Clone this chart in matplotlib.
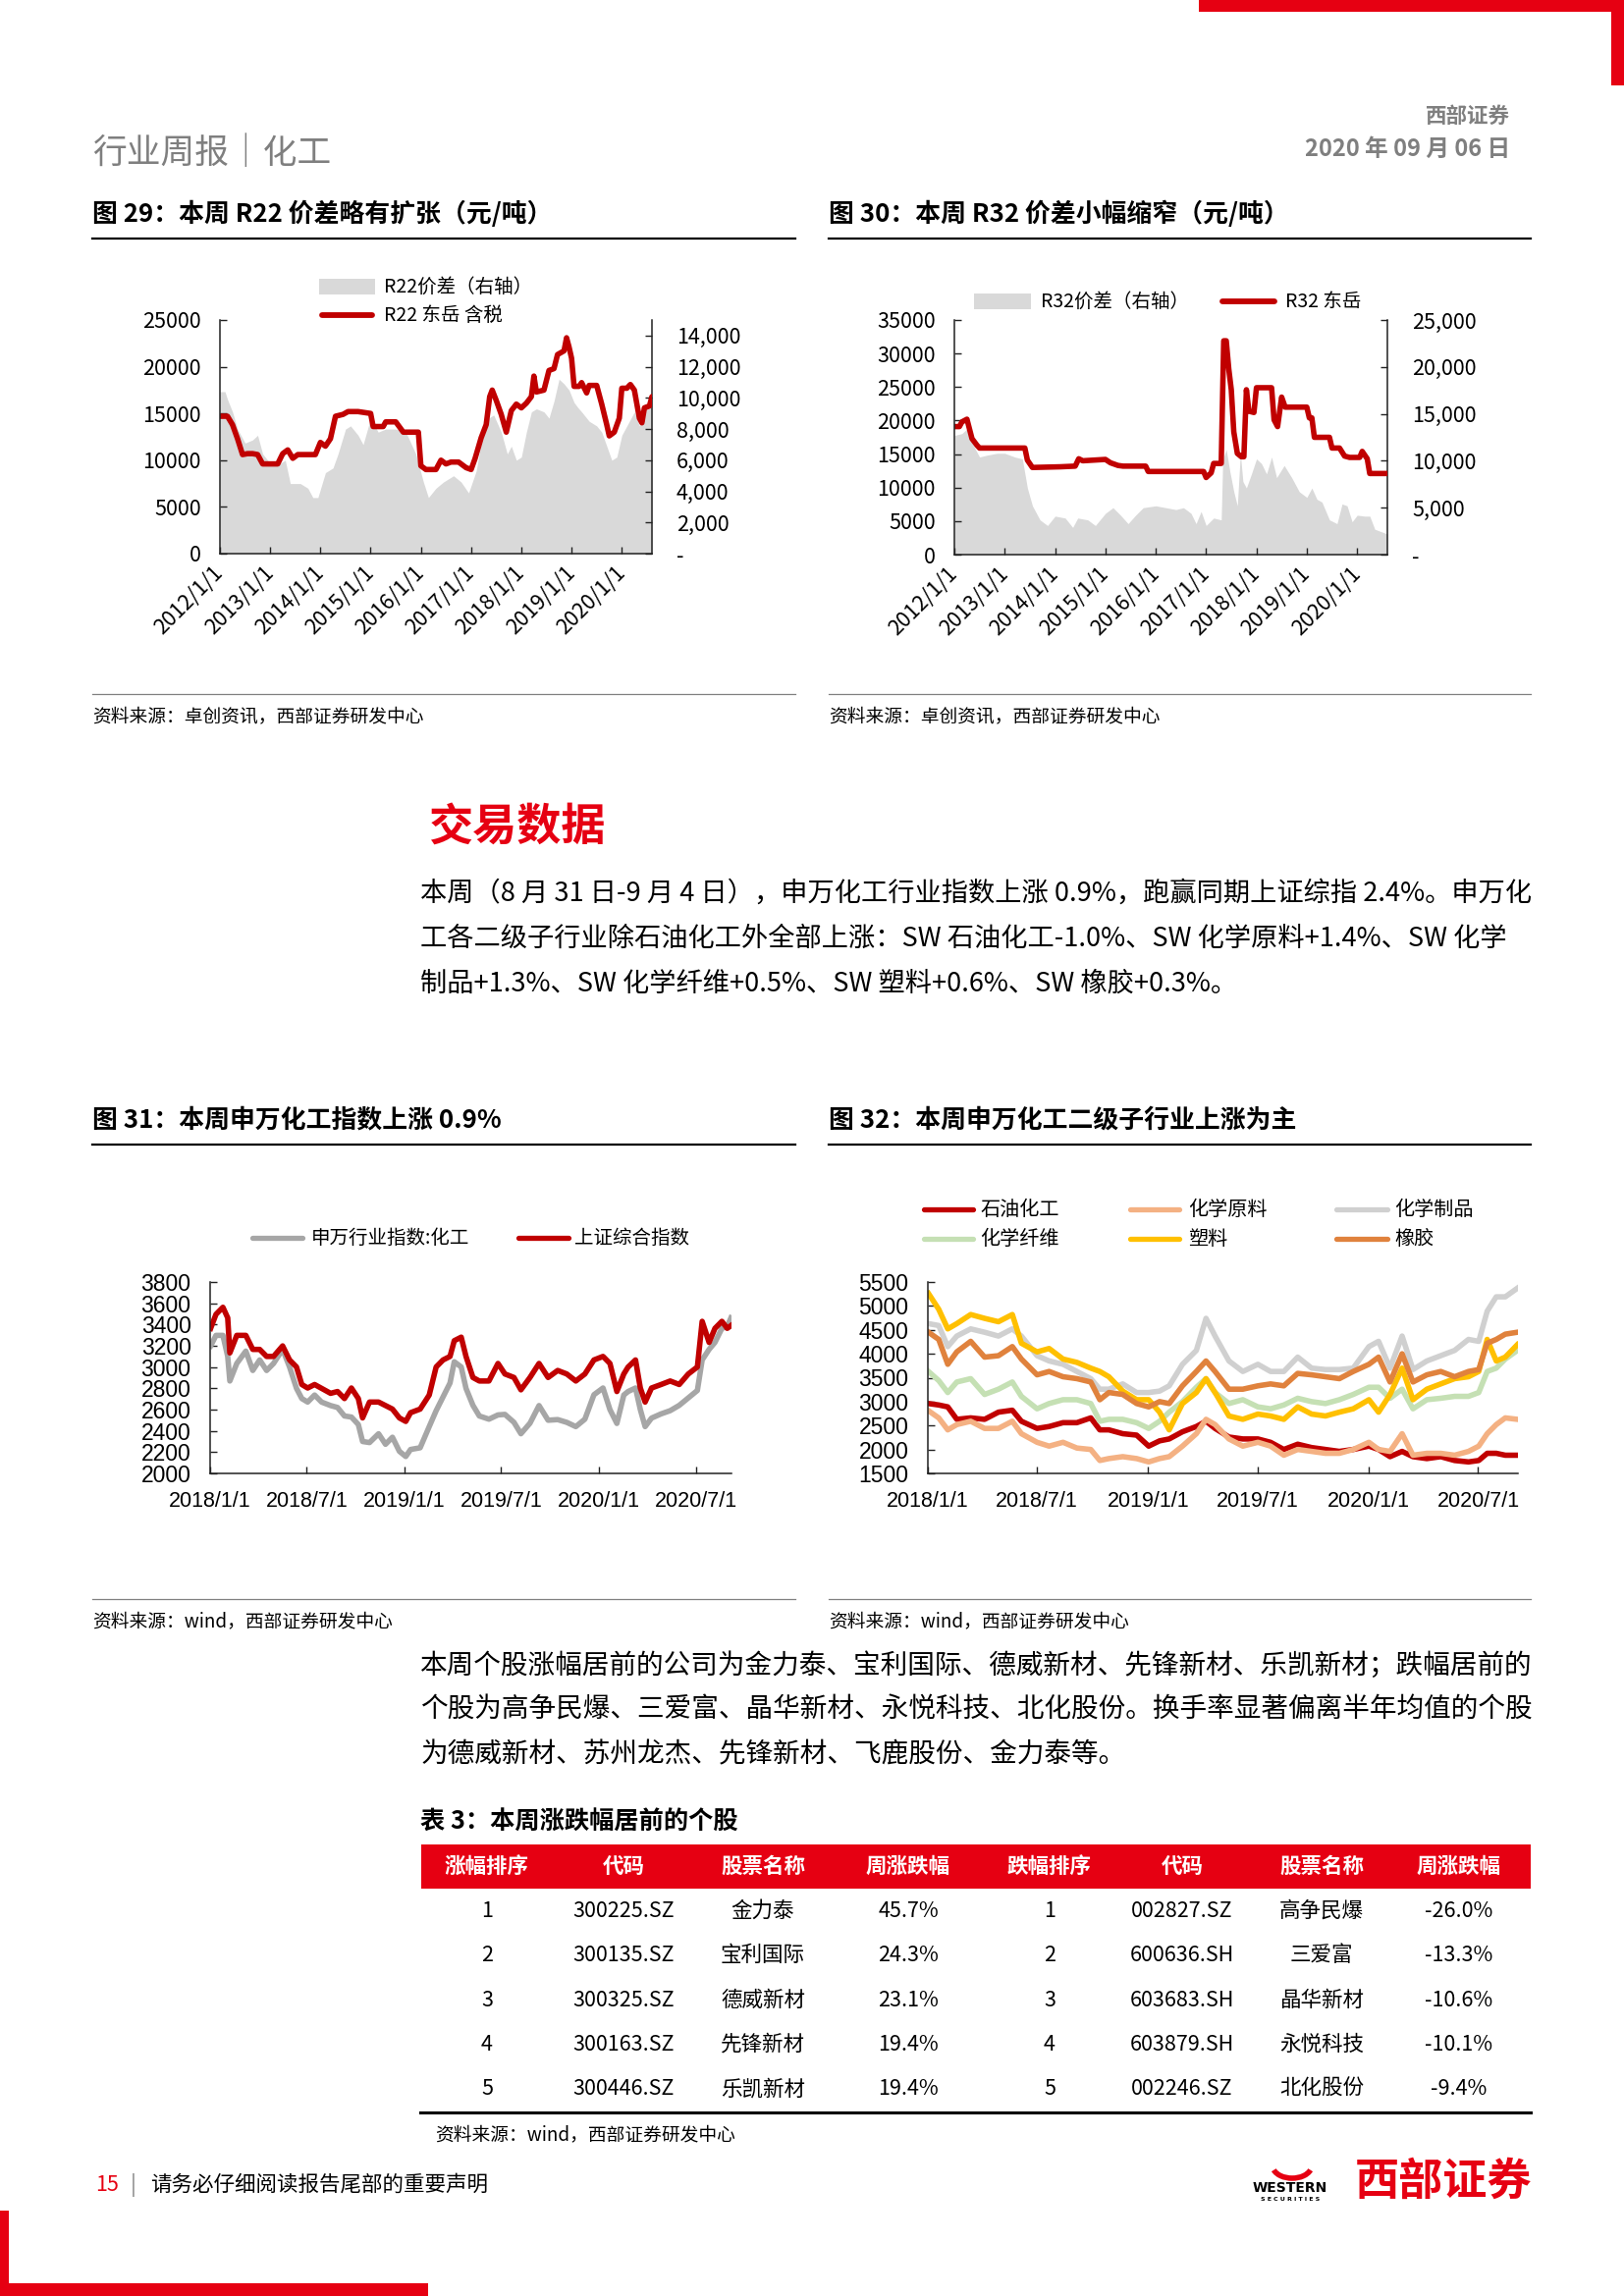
import matplotlib
matplotlib.use("Agg")
import matplotlib.pyplot as plt
from matplotlib.lines import Line2D
from matplotlib.patches import Rectangle, Arc
from matplotlib.ticker import FuncFormatter
import numpy as np
import pandas as pd

plt.rcParams['font.family'] = ['Noto Sans CJK SC', 'DejaVu Sans']
plt.rcParams['axes.unicode_minus'] = False

# ---------------- data ----------------
# fig 29: R22 price (left axis) and spread (right axis), decimal years
r22_t = [2012.0, 2012.15, 2012.25, 2012.35, 2012.45, 2012.55, 2012.65, 2012.75, 2012.85, 2013.0,
         2013.15, 2013.25, 2013.35, 2013.45, 2013.55, 2013.7, 2013.9, 2014.0, 2014.1, 2014.2,
         2014.3, 2014.45, 2014.55, 2014.75, 2015.0, 2015.05, 2015.25, 2015.3, 2015.5, 2015.65,
         2015.95, 2016.0, 2016.1, 2016.3, 2016.4, 2016.5, 2016.6, 2016.75, 2016.9, 2017.0,
         2017.08, 2017.2, 2017.3, 2017.37, 2017.42, 2017.5, 2017.6, 2017.7, 2017.8, 2017.9,
         2018.0, 2018.1, 2018.2, 2018.25, 2018.3, 2018.45, 2018.55, 2018.65, 2018.72, 2018.85,
         2018.9, 2018.95, 2019.0, 2019.05, 2019.15, 2019.2, 2019.3, 2019.35, 2019.5, 2019.6,
         2019.7, 2019.75, 2019.85, 2019.95, 2020.0, 2020.1, 2020.17, 2020.25, 2020.35, 2020.4,
         2020.45, 2020.55, 2020.6]
r22_price = [14700, 14700, 13800, 12300, 10600, 10700, 10700, 10600, 9600, 9600,
             9600, 10700, 11100, 10200, 10600, 10600, 10600, 11900, 11500, 12300,
             14700, 14900, 15200, 15200, 15000, 13600, 13600, 14100, 14100, 13000,
             13000, 9400, 9000, 9000, 10000, 9600, 9800, 9800, 9200, 9000,
             10200, 12400, 13800, 16800, 17500, 16400, 14900, 13000, 15300, 16000,
             15600, 16100, 16800, 19000, 17300, 17500, 19600, 19800, 21300, 21700,
             23100, 22100, 20900, 17900, 17900, 18300, 17200, 18000, 18000, 16000,
             13800, 12600, 13000, 14500, 17700, 17700, 18100, 17500, 14500, 14000,
             15600, 15800, 16800]
r22_spread_t = [2012.0, 2012.1, 2012.15, 2012.25, 2012.35, 2012.5, 2012.65, 2012.75, 2012.85, 2013.0,
                2013.2, 2013.3, 2013.4, 2013.6, 2013.75, 2013.85, 2013.95, 2014.1, 2014.25, 2014.35,
                2014.5, 2014.6, 2014.75, 2014.85, 2015.0, 2015.15, 2015.3, 2015.5, 2015.7, 2015.9,
                2016.05, 2016.15, 2016.3, 2016.45, 2016.65, 2016.8, 2016.95, 2017.1, 2017.25, 2017.35,
                2017.45, 2017.6, 2017.72, 2017.8, 2017.9, 2018.0, 2018.1, 2018.2, 2018.3, 2018.45,
                2018.55, 2018.65, 2018.75, 2018.85, 2018.95, 2019.05, 2019.12, 2019.2, 2019.35, 2019.5,
                2019.6, 2019.7, 2019.8, 2019.9, 2020.0, 2020.1, 2020.25, 2020.35, 2020.45, 2020.55,
                2020.6]
r22_spread = [10400, 10400, 9900, 9100, 8000, 7100, 7300, 7600, 6400, 5800,
              5800, 6000, 4500, 4500, 4200, 3600, 3600, 5200, 5500, 6400,
              8000, 8200, 7600, 7000, 8700, 7800, 8000, 8000, 7800, 6400,
              4600, 3600, 4200, 4600, 5000, 4600, 3900, 5300, 8000, 8700,
              8900, 7800, 6400, 6900, 6000, 6200, 7800, 9100, 9300, 9100,
              8700, 9800, 11200, 10900, 10500, 9700, 9400, 9100, 8500, 8200,
              7800, 6900, 6000, 6200, 7600, 8200, 9100, 8200, 9100, 9600,
              10000]

# fig 30: R32 price (left axis) and spread (right axis)
r32_t = [2012.0, 2012.1, 2012.15, 2012.25, 2012.35, 2012.45, 2012.5, 2013.4, 2013.45, 2013.55,
         2014.1, 2014.4, 2014.47, 2014.55, 2015.0, 2015.1, 2015.25, 2015.35, 2015.8, 2015.85,
         2016.95, 2017.0, 2017.1, 2017.15, 2017.3, 2017.35, 2017.4, 2017.45, 2017.5, 2017.55,
         2017.62, 2017.7, 2017.75, 2017.8, 2017.85, 2017.95, 2018.0, 2018.3, 2018.35, 2018.42,
         2018.5, 2018.57, 2019.0, 2019.05, 2019.1, 2019.15, 2019.45, 2019.5, 2019.65, 2019.75,
         2019.85, 2020.05, 2020.1, 2020.2, 2020.25, 2020.6]
r32_price = [19100, 19100, 19800, 20200, 17300, 16300, 15900, 15900, 14100, 13000,
             13100, 13200, 14300, 14000, 14200, 13700, 13300, 13200, 13200, 12400,
             12400, 11500, 12200, 13600, 13600, 31900, 31900, 27700, 24600, 18300,
             15100, 14600, 14600, 24600, 21400, 21200, 24900, 24900, 20100, 19100,
             23500, 22000, 22000, 20400, 20400, 17500, 17500, 15900, 15900, 14700,
             14500, 14500, 15400, 14300, 12100, 12100]
r32_spread_t = [2012.0, 2012.15, 2012.25, 2012.35, 2012.5, 2012.65, 2012.85, 2013.0, 2013.2, 2013.35,
                2013.45, 2013.55, 2013.7, 2013.85, 2014.0, 2014.2, 2014.35, 2014.45, 2014.65, 2014.8,
                2015.0, 2015.15, 2015.3, 2015.45, 2015.6, 2015.75, 2016.0, 2016.2, 2016.4, 2016.55,
                2016.7, 2016.8, 2016.9, 2017.0, 2017.15, 2017.3, 2017.33, 2017.4, 2017.47, 2017.55,
                2017.62, 2017.68, 2017.73, 2017.8, 2017.9, 2018.0, 2018.1, 2018.2, 2018.3, 2018.4,
                2018.55, 2018.7, 2018.85, 2019.0, 2019.1, 2019.2, 2019.3, 2019.45, 2019.6, 2019.7,
                2019.8, 2019.9, 2020.0, 2020.15, 2020.25, 2020.35, 2020.5, 2020.6]
r32_spread = [12700, 12900, 13400, 11900, 10400, 10600, 10800, 10800, 10400, 10200,
              7100, 5200, 3700, 3100, 4100, 3900, 2900, 3900, 3700, 3100,
              4400, 5000, 4200, 3300, 4200, 5000, 5200, 5000, 4800, 5000,
              4400, 3300, 4600, 3100, 3900, 3700, 10100, 11200, 8900, 6700,
              5200, 10800, 7800, 7100, 8600, 10200, 9700, 8600, 10400, 8200,
              9500, 8200, 6700, 6100, 7100, 5900, 5600, 3700, 3300, 5400,
              5200, 3500, 4200, 4100, 4100, 2700, 2400, 2200]

# fig 31: index levels
idx_dates = ['2018-01-02', '2018-01-12', '2018-01-25', '2018-02-03', '2018-02-07', '2018-02-20', '2018-03-09',
             '2018-03-22', '2018-04-04', '2018-04-17', '2018-04-30', '2018-05-17', '2018-05-30', '2018-06-12',
             '2018-06-22', '2018-07-03', '2018-07-16', '2018-07-29', '2018-08-15', '2018-08-28', '2018-09-10',
             '2018-09-23', '2018-10-06', '2018-10-14', '2018-10-27', '2018-11-13', '2018-11-26', '2018-12-09',
             '2018-12-22', '2019-01-03', '2019-01-12', '2019-01-30', '2019-02-16', '2019-03-01', '2019-03-14',
             '2019-03-27', '2019-04-04', '2019-04-17', '2019-04-26', '2019-05-09', '2019-05-21', '2019-06-08',
             '2019-06-25', '2019-07-08', '2019-07-25', '2019-08-07', '2019-08-24', '2019-09-10', '2019-09-27',
             '2019-10-15', '2019-11-01', '2019-11-18', '2019-12-05', '2019-12-22', '2020-01-08', '2020-01-21',
             '2020-02-03', '2020-02-16', '2020-02-24', '2020-03-09', '2020-03-18', '2020-03-27', '2020-04-08',
             '2020-04-26', '2020-05-13', '2020-05-30', '2020-06-16', '2020-07-03', '2020-07-12', '2020-07-25',
             '2020-08-05', '2020-08-18', '2020-08-28', '2020-09-04']
sw_chem = [3199, 3298, 3298, 3100, 2869, 3034, 3150, 2968, 3067, 2968,
           3034, 3166, 3001, 2800, 2704, 2671, 2737, 2671, 2638, 2620,
           2540, 2530, 2460, 2300, 2290, 2373, 2274, 2340, 2208, 2159,
           2225, 2241, 2440, 2590, 2720, 2850, 3050, 3001, 2800, 2640,
           2540, 2510, 2550, 2555, 2480, 2373, 2472, 2638, 2500, 2506,
           2480, 2440, 2510, 2740, 2803, 2600, 2470, 2737, 2770, 2803,
           2600, 2440, 2520, 2560, 2590, 2640, 2710, 2780, 3067, 3166,
           3232, 3364, 3380, 3463]
sh_comp = [3364, 3496, 3562, 3463, 3133, 3298, 3298, 3166, 3166, 3100,
           3100, 3199, 3067, 3001, 2836, 2803, 2836, 2800, 2753, 2770,
           2704, 2803, 2704, 2522, 2671, 2671, 2638, 2605, 2522, 2489,
           2571, 2605, 2737, 3001, 3067, 3100, 3248, 3281, 3100, 2902,
           2869, 2869, 3034, 2935, 2902, 2786, 2902, 3034, 2902, 2968,
           2935, 2869, 2935, 3067, 3100, 3034, 2770, 2935, 3000, 3067,
           2803, 2671, 2803, 2836, 2869, 2836, 2935, 3001, 3430, 3232,
           3364, 3430, 3364, 3390]

# fig 32: sub-industry indices
sub_dates = ['2018-01-02', '2018-01-19', '2018-02-03', '2018-02-18', '2018-03-13', '2018-04-05', '2018-04-28',
             '2018-05-21', '2018-06-05', '2018-07-01', '2018-07-21', '2018-08-13', '2018-09-05', '2018-09-28',
             '2018-10-13', '2018-10-28', '2018-11-20', '2018-12-13', '2019-01-02', '2019-01-20', '2019-02-05',
             '2019-02-27', '2019-03-22', '2019-04-07', '2019-04-22', '2019-05-15', '2019-06-07', '2019-07-02',
             '2019-07-23', '2019-08-14', '2019-09-06', '2019-09-29', '2019-10-22', '2019-11-14', '2019-12-07',
             '2020-01-02', '2020-01-18', '2020-02-06', '2020-02-26', '2020-03-15', '2020-04-07', '2020-04-30',
             '2020-05-23', '2020-06-15', '2020-07-02', '2020-07-16', '2020-07-31', '2020-08-15', '2020-09-04']
petrochem = [2960, 2930, 2890, 2630, 2660, 2630, 2780, 2820, 2590, 2440,
             2480, 2560, 2560, 2660, 2410, 2410, 2330, 2300, 2070, 2180,
             2220, 2370, 2480, 2590, 2440, 2260, 2220, 2220, 2150, 2000,
             2110, 2040, 2000, 1960, 2000, 2070, 2000, 1850, 1960, 1850,
             1810, 1850, 1770, 1740, 1770, 1920, 1920, 1880, 1880]
chem_raw = [2810, 2660, 2410, 2520, 2590, 2440, 2440, 2590, 2330, 2150,
            2070, 2150, 2030, 2000, 1770, 1810, 1850, 1810, 1740, 1810,
            1850, 2070, 2330, 2630, 2520, 2220, 2070, 2150, 2070, 1880,
            2000, 1960, 1920, 1920, 2000, 2150, 2000, 1960, 2330, 1880,
            1920, 1920, 1880, 1960, 2070, 2330, 2520, 2660, 2630]
chem_prod = [4630, 4590, 4150, 4370, 4520, 4450, 4370, 4520, 4370, 3960,
             3850, 3780, 3630, 3480, 3260, 3260, 3370, 3190, 3190, 3220,
             3330, 3780, 4070, 4740, 4370, 3850, 3630, 3780, 3630, 3630,
             3930, 3700, 3670, 3670, 3700, 4150, 4260, 3700, 4370, 3670,
             3850, 3960, 4070, 4300, 4260, 4890, 5190, 5190, 5370]
chem_fiber = [3630, 3440, 3190, 3410, 3480, 3150, 3260, 3410, 3110, 2850,
              2960, 3040, 3040, 2960, 2590, 2630, 2630, 2560, 2440, 2590,
              2780, 3000, 3300, 3480, 3190, 2960, 3040, 2890, 2850, 2930,
              3070, 3000, 2960, 3040, 3150, 3300, 3300, 3070, 3260, 2850,
              3040, 3070, 3110, 3110, 3190, 3630, 3700, 3890, 4070]
plastics = [5260, 4930, 4520, 4630, 4820, 4740, 4670, 4820, 4220, 4040,
            4110, 3890, 3820, 3700, 3630, 3520, 3220, 3040, 3040, 2780,
            2410, 2960, 3190, 3480, 3190, 2700, 2630, 2740, 2700, 2630,
            2890, 2740, 2700, 2780, 2850, 3040, 2780, 3150, 3700, 3040,
            3260, 3370, 3480, 3520, 3630, 4300, 3850, 3930, 4190]
rubber = [4450, 4300, 3780, 4040, 4260, 3930, 3960, 4150, 3890, 3560,
          3630, 3520, 3480, 3410, 3040, 3190, 3150, 2960, 2890, 3000,
          2960, 3330, 3630, 3850, 3630, 3260, 3260, 3330, 3370, 3330,
          3590, 3560, 3520, 3480, 3630, 3780, 3930, 3410, 4000, 3410,
          3560, 3630, 3520, 3630, 3670, 4220, 4300, 4410, 4450]
sub_names = ['石油化工', '化学原料', '化学制品', '化学纤维', '塑料', '橡胶']

# table 3
rank = [1, 2, 3, 4, 5]
up_code = ['300225.SZ', '300135.SZ', '300325.SZ', '300163.SZ', '300446.SZ']
up_name = ['金力泰', '宝利国际', '德威新材', '先锋新材', '乐凯新材']
up_chg = [45.7, 24.3, 23.1, 19.4, 19.4]
down_code = ['002827.SZ', '600636.SH', '603683.SH', '603879.SH', '002246.SZ']
down_name = ['高争民爆', '三爱富', '晶华新材', '永悦科技', '北化股份']
down_chg = [-26.0, -13.3, -10.6, -10.1, -9.4]
table_header = ['涨幅排序', '代码', '股票名称', '周涨跌幅', '跌幅排序', '代码', '股票名称', '周涨跌幅']

# ---------------- styles ----------------
W, H = 1654, 2339
RED = '#C00000'
BRAND = '#E60012'
AREA = '#D9D9D9'
SUB_COLORS = ['#C00000', '#F4B183', '#D0D0D0', '#C5E0B4', '#FFC000', '#E0823D']
NUM_FONT = ['Liberation Sans', 'Noto Sans CJK SC']
TICK_FS = 15.5

fig = plt.figure(figsize=(W / 100, H / 100), dpi=100)


def px_ax(l, t, r, b):
    return fig.add_axes([l / W, 1 - b / H, (r - l) / W, (b - t) / H])


def ftext(x, y, s, **kw):
    kw.setdefault('va', 'center')
    return fig.text(x / W, 1 - y / H, s, **kw)


def hline(x0, x1, y, lw=1.0, color='black'):
    fig.add_artist(Line2D([x0 / W, x1 / W], [1 - y / H] * 2, lw=lw, color=color,
                          transform=fig.transFigure))


def box(x0, y0, x1, y1, color):
    fig.add_artist(Rectangle((x0 / W, 1 - y1 / H), (x1 - x0) / W, (y1 - y0) / H,
                             facecolor=color, edgecolor='none', transform=fig.transFigure))


def legend_line(x0, x1, y, color, label, tx, fs=14, lw=3.8):
    fig.add_artist(Line2D([x0 / W, x1 / W], [1 - y / H] * 2, lw=lw, color=color,
                          solid_capstyle='round', transform=fig.transFigure))
    ftext(tx, y, label, fontsize=fs)


def style_axes(ax):
    ax.spines['top'].set_visible(False)
    ax.spines['right'].set_visible(False)
    for s in ['left', 'bottom']:
        ax.spines[s].set_linewidth(1.1)
        ax.spines[s].set_color('#222222')
    ax.tick_params(direction='in', length=5, width=1.0, colors='#222222', labelcolor='black',
                   labelsize=TICK_FS)


def spread_chart(pos, price_t, price, spread_t, spread, left_max, right_max, right_ticks):
    ax = px_ax(*pos)
    axr = ax.twinx()
    axr.fill_between(spread_t, spread, 0, color=AREA, lw=0)
    ax.plot(price_t, price, color=RED, lw=4, solid_joinstyle='round', solid_capstyle='round')
    ax.set_zorder(axr.get_zorder() + 1)
    ax.patch.set_visible(False)

    ax.set_xlim(2012, 2020.6)
    ax.set_ylim(0, left_max)
    axr.set_ylim(0, right_max)
    ax.set_yticks(np.arange(0, left_max + 1, 5000))
    axr.set_yticks(right_ticks)
    axr.yaxis.set_major_formatter(FuncFormatter(lambda v, p: '-' if v == 0 else f'{int(v):,}'))

    years = list(range(2012, 2021))
    ax.set_xticks(years)
    ax.set_xticklabels([f'{y}/1/1' for y in years], rotation=45, ha='right', va='center',
                       rotation_mode='anchor')

    style_axes(ax)
    ax.tick_params(axis='y', pad=14)
    ax.tick_params(axis='x', pad=12)
    for s in ['top', 'left', 'bottom']:
        axr.spines[s].set_visible(False)
    axr.spines['right'].set_linewidth(1.1)
    axr.spines['right'].set_color('#222222')
    axr.tick_params(direction='in', length=5, width=1.0, colors='#222222', labelcolor='black',
                    labelsize=TICK_FS, pad=18)
    return ax


def index_chart(pos, dates, series, colors, ymin, ymax, ystep):
    ax = px_ax(*pos)
    t = pd.to_datetime(dates)
    for vals, c in zip(series, colors):
        ax.plot(t, vals, color=c, lw=4, solid_joinstyle='round')
    ax.set_xlim(pd.Timestamp('2018-01-01'), pd.Timestamp('2020-09-05'))
    ax.set_ylim(ymin, ymax)
    ax.set_yticks(np.arange(ymin, ymax + 1, ystep))
    ticks = pd.to_datetime(['2018-01-01', '2018-07-01', '2019-01-01', '2019-07-01',
                            '2020-01-01', '2020-07-01'])
    ax.set_xticks(ticks)
    ax.set_xticklabels([f'{d.year}/{d.month}/{d.day}' for d in ticks])
    style_axes(ax)
    ax.tick_params(axis='y', pad=14, labelsize=16.5)
    ax.tick_params(axis='x', pad=13)
    for lbl in ax.get_xticklabels() + ax.get_yticklabels():
        lbl.set_fontfamily(NUM_FONT)
    return ax


# ---------------- page frame ----------------
box(1221, 0, 1654, 12, BRAND)
box(1641, 0, 1654, 87, BRAND)
box(0, 2252, 9, 2339, BRAND)
box(0, 2326, 436, 2339, BRAND)

ftext(94, 157, '行业周报｜化工', fontsize=25, color='#7F7F7F')
ftext(1538, 118, '西部证券', fontsize=15.5, color='#7F7F7F', ha='right', fontweight='bold')
ftext(1538, 152, '2020 年 09 月 06 日', fontsize=17, color='#7F7F7F', ha='right', fontweight='bold')

# ---------------- fig 29 / 30 ----------------
ftext(94, 218, '图 29：本周 R22 价差略有扩张（元/吨）', fontsize=18.6, fontweight='bold')
ftext(844, 218, '图 30：本周 R32 价差小幅缩窄（元/吨）', fontsize=18.6, fontweight='bold')
hline(94, 810, 243, lw=1.6)
hline(844, 1559, 243, lw=1.6)

spread_chart((224, 326, 664, 564), r22_t, r22_price, r22_spread_t, r22_spread,
             25000, 15000, np.arange(0, 14001, 2000))
spread_chart((972, 326, 1413, 565), r32_t, r32_price, r32_spread_t, r32_spread,
             35000, 25000, np.arange(0, 25001, 5000))

box(325, 284, 382, 300, AREA)
ftext(391, 292, 'R22价差（右轴）', fontsize=14)
legend_line(328, 379, 321, RED, 'R22 东岳 含税', 391, lw=4.2)
box(992, 299, 1050, 315, AREA)
ftext(1060, 307, 'R32价差（右轴）', fontsize=14)
legend_line(1245, 1298, 307, RED, 'R32 东岳', 1309, lw=4.2)

hline(94, 810, 707, lw=0.9, color='#808080')
hline(844, 1559, 707, lw=0.9, color='#808080')
ftext(94, 730, '资料来源：卓创资讯，西部证券研发中心', fontsize=13.5)
ftext(844, 730, '资料来源：卓创资讯，西部证券研发中心', fontsize=13.5)

# ---------------- text block ----------------
ftext(437, 843, '交易数据', fontsize=32.5, fontweight='bold', color=BRAND)
para1 = ['本周（8 月 31 日-9 月 4 日），申万化工行业指数上涨 0.9%，跑赢同期上证综指 2.4%。申万化',
         '工各二级子行业除石油化工外全部上涨：SW 石油化工-1.0%、SW 化学原料+1.4%、SW 化学',
         '制品+1.3%、SW 化学纤维+0.5%、SW 塑料+0.6%、SW 橡胶+0.3%。']
for i, line in enumerate(para1):
    ftext(428, 910 + 46 * i, line, fontsize=19.6)

# ---------------- fig 31 / 32 ----------------
ftext(94, 1141, '图 31：本周申万化工指数上涨 0.9%', fontsize=18.6, fontweight='bold')
ftext(844, 1141, '图 32：本周申万化工二级子行业上涨为主', fontsize=18.6, fontweight='bold')
hline(94, 810, 1166, lw=1.6)
hline(844, 1559, 1166, lw=1.6)

index_chart((214, 1306, 745, 1501), idx_dates, [sw_chem, sh_comp], ['#A6A6A6', RED], 2000, 3800, 200)
legend_line(257, 308, 1261, '#A6A6A6', '申万行业指数:化工', 317)
legend_line(528, 579, 1261, RED, '上证综合指数', 585)

index_chart((945, 1306, 1546, 1501), sub_dates,
            [petrochem, chem_raw, chem_prod, chem_fiber, plastics, rubber], SUB_COLORS, 1500, 5500, 500)
leg_cols = [(941, 991, 998), (1151, 1201, 1210), (1361, 1413, 1420)]
for i, (name, c) in enumerate(zip(sub_names, SUB_COLORS)):
    x0, x1, tx = leg_cols[i % 3]
    legend_line(x0, x1, 1232 + 30 * (i // 3), c, name, tx, fs=14.5)

hline(94, 810, 1629, lw=0.9, color='#808080')
hline(844, 1559, 1629, lw=0.9, color='#808080')
ftext(94, 1652, '资料来源：wind，西部证券研发中心', fontsize=13.5)
ftext(844, 1652, '资料来源：wind，西部证券研发中心', fontsize=13.5)

para2 = ['本周个股涨幅居前的公司为金力泰、宝利国际、德威新材、先锋新材、乐凯新材；跌幅居前的',
         '个股为高争民爆、三爱富、晶华新材、永悦科技、北化股份。换手率显著偏离半年均值的个股',
         '为德威新材、苏州龙杰、先锋新材、飞鹿股份、金力泰等。']
for i, line in enumerate(para2):
    ftext(428, 1697 + 45 * i, line, fontsize=19.9)

# ---------------- table 3 ----------------
ftext(428, 1855, '表 3：本周涨跌幅居前的个股', fontsize=18.2, fontweight='bold')
box(429, 1879, 1559, 1924, BRAND)
col_x = [496, 635, 777, 925, 1069, 1204, 1346, 1486]
for x, h in zip(col_x, table_header):
    ftext(x, 1901, h, fontsize=15.5, fontweight='bold', color='white', ha='center')
for i in range(len(rank)):
    y = 1947 + 45.3 * i
    row = [str(rank[i]), up_code[i], up_name[i], f'{up_chg[i]:.1f}%',
           str(rank[i]), down_code[i], down_name[i], f'{down_chg[i]:.1f}%']
    for x, cell in zip(col_x, row):
        ftext(x, y, cell, fontsize=15.5, ha='center')
hline(428, 1559, 2152, lw=2.2)
ftext(443, 2175, '资料来源：wind，西部证券研发中心', fontsize=13.5)

# ---------------- footer ----------------
ftext(97, 2226, '15', fontsize=15.5, color=BRAND)
ftext(133, 2226, '|', fontsize=15.5, color='#7F7F7F')
ftext(153, 2226, '请务必仔细阅读报告尾部的重要声明', fontsize=15.5)
fig.add_artist(Arc((1316 / W, 1 - 2206 / H), 40 / W, 26 / H, theta1=190, theta2=350,
                   lw=4, color=BRAND, transform=fig.transFigure))
ftext(1314, 2229, 'WESTERN', fontsize=10, fontweight='bold', family='DejaVu Sans', ha='center')
ftext(1314, 2240, 'S E C U R I T I E S', fontsize=4.5, fontweight='bold', family='DejaVu Sans',
      ha='center')
ftext(1380, 2223, '西部证券', fontsize=32.5, fontweight='bold', color=BRAND)

fig.savefig('out.png', dpi=100)
